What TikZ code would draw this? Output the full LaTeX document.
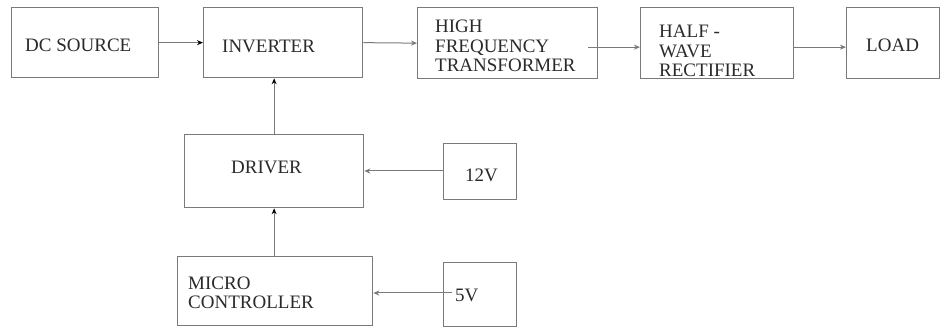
\documentclass[tikz,border=0pt]{standalone}
\usepackage{fontspec}
\setmainfont{Liberation Serif}
\usetikzlibrary{arrows.meta}
\definecolor{linegray}{HTML}{7A7A7A}
\definecolor{txt}{HTML}{2A2A2A}
\tikzset{
  box/.style={draw=linegray, line width=1.3, inner sep=0, anchor=north west},
  lbl/.style={text=txt, inner sep=0, anchor=base west, align=left, font=\fontsize{19}{19.5}\selectfont},
  arr/.style={draw=linegray, line width=1.0, -{Stealth[length=6,width=5]}},
  darr/.style={draw=linegray, line width=1.0, -{Stealth[length=6,width=5,color=black]}}
}
\begin{document}
\begin{tikzpicture}[x=1pt,y=-1pt]
\useasboundingbox[fill=white] (0,0) rectangle (943,328);
% boxes
\node[box, minimum width=147, minimum height=70] (dc) at (11,7) {};
\node[box, minimum width=159, minimum height=70] (inv) at (203,7) {};
\node[box, minimum width=180, minimum height=71] (hf) at (417,7) {};
\node[box, minimum width=153, minimum height=71] (hw) at (640,7) {};
\node[box, minimum width=93, minimum height=71] (load) at (846,7) {};
\node[box, minimum width=179, minimum height=73] (drv) at (184,134) {};
\node[box, minimum width=73, minimum height=56] (v12) at (443,143) {};
\node[box, minimum width=195, minimum height=69] (mc) at (177,256) {};
\node[box, minimum width=73, minimum height=64] (v5) at (443,262) {};
% labels (base anchor = baseline of last line)
\node[lbl] (tdc) at (25,52) {DC SOURCE};
\node[lbl] (tinv) at (222,53) {INVERTER};
\node[lbl] (thf) at (435,72) {HIGH\\FREQUENCY\\TRANSFORMER};
\node[lbl] (thw) at (659,77) {HALF -\\WAVE\\RECTIFIER};
\node[lbl] (tload) at (866,52) {LOAD};
\node[lbl] (tdrv) at (231,174) {DRIVER};
\node[lbl] (t12) at (465,182) {12V};
\node[lbl] (tmc) at (188,309) {MICRO\\CONTROLLER};
\node[lbl] (t5) at (455,302) {5V};
% connectors
\draw[darr] (dc.east) -- (inv.west);
\draw[arr] (inv.east) -- (hf.west);
\draw[arr] ([shift={(-10,4)}]hf.east) -- ([shift={(0,4)}]hw.west);
\draw[arr] ([shift={(0,4)}]hw.east) -- ([shift={(0,4)}]load.west);
\draw[darr] (drv.north) -- (drv.north |- inv.south);
\draw[darr] (mc.north -| drv.south) -- (drv.south);
\draw[arr] (v12.west |- 0,171) -- (drv.east |- 0,171);
\draw[arr] ([xshift=9]v5.west |- 0,293) -- (mc.east |- 0,293);
\end{tikzpicture}
\end{document}
